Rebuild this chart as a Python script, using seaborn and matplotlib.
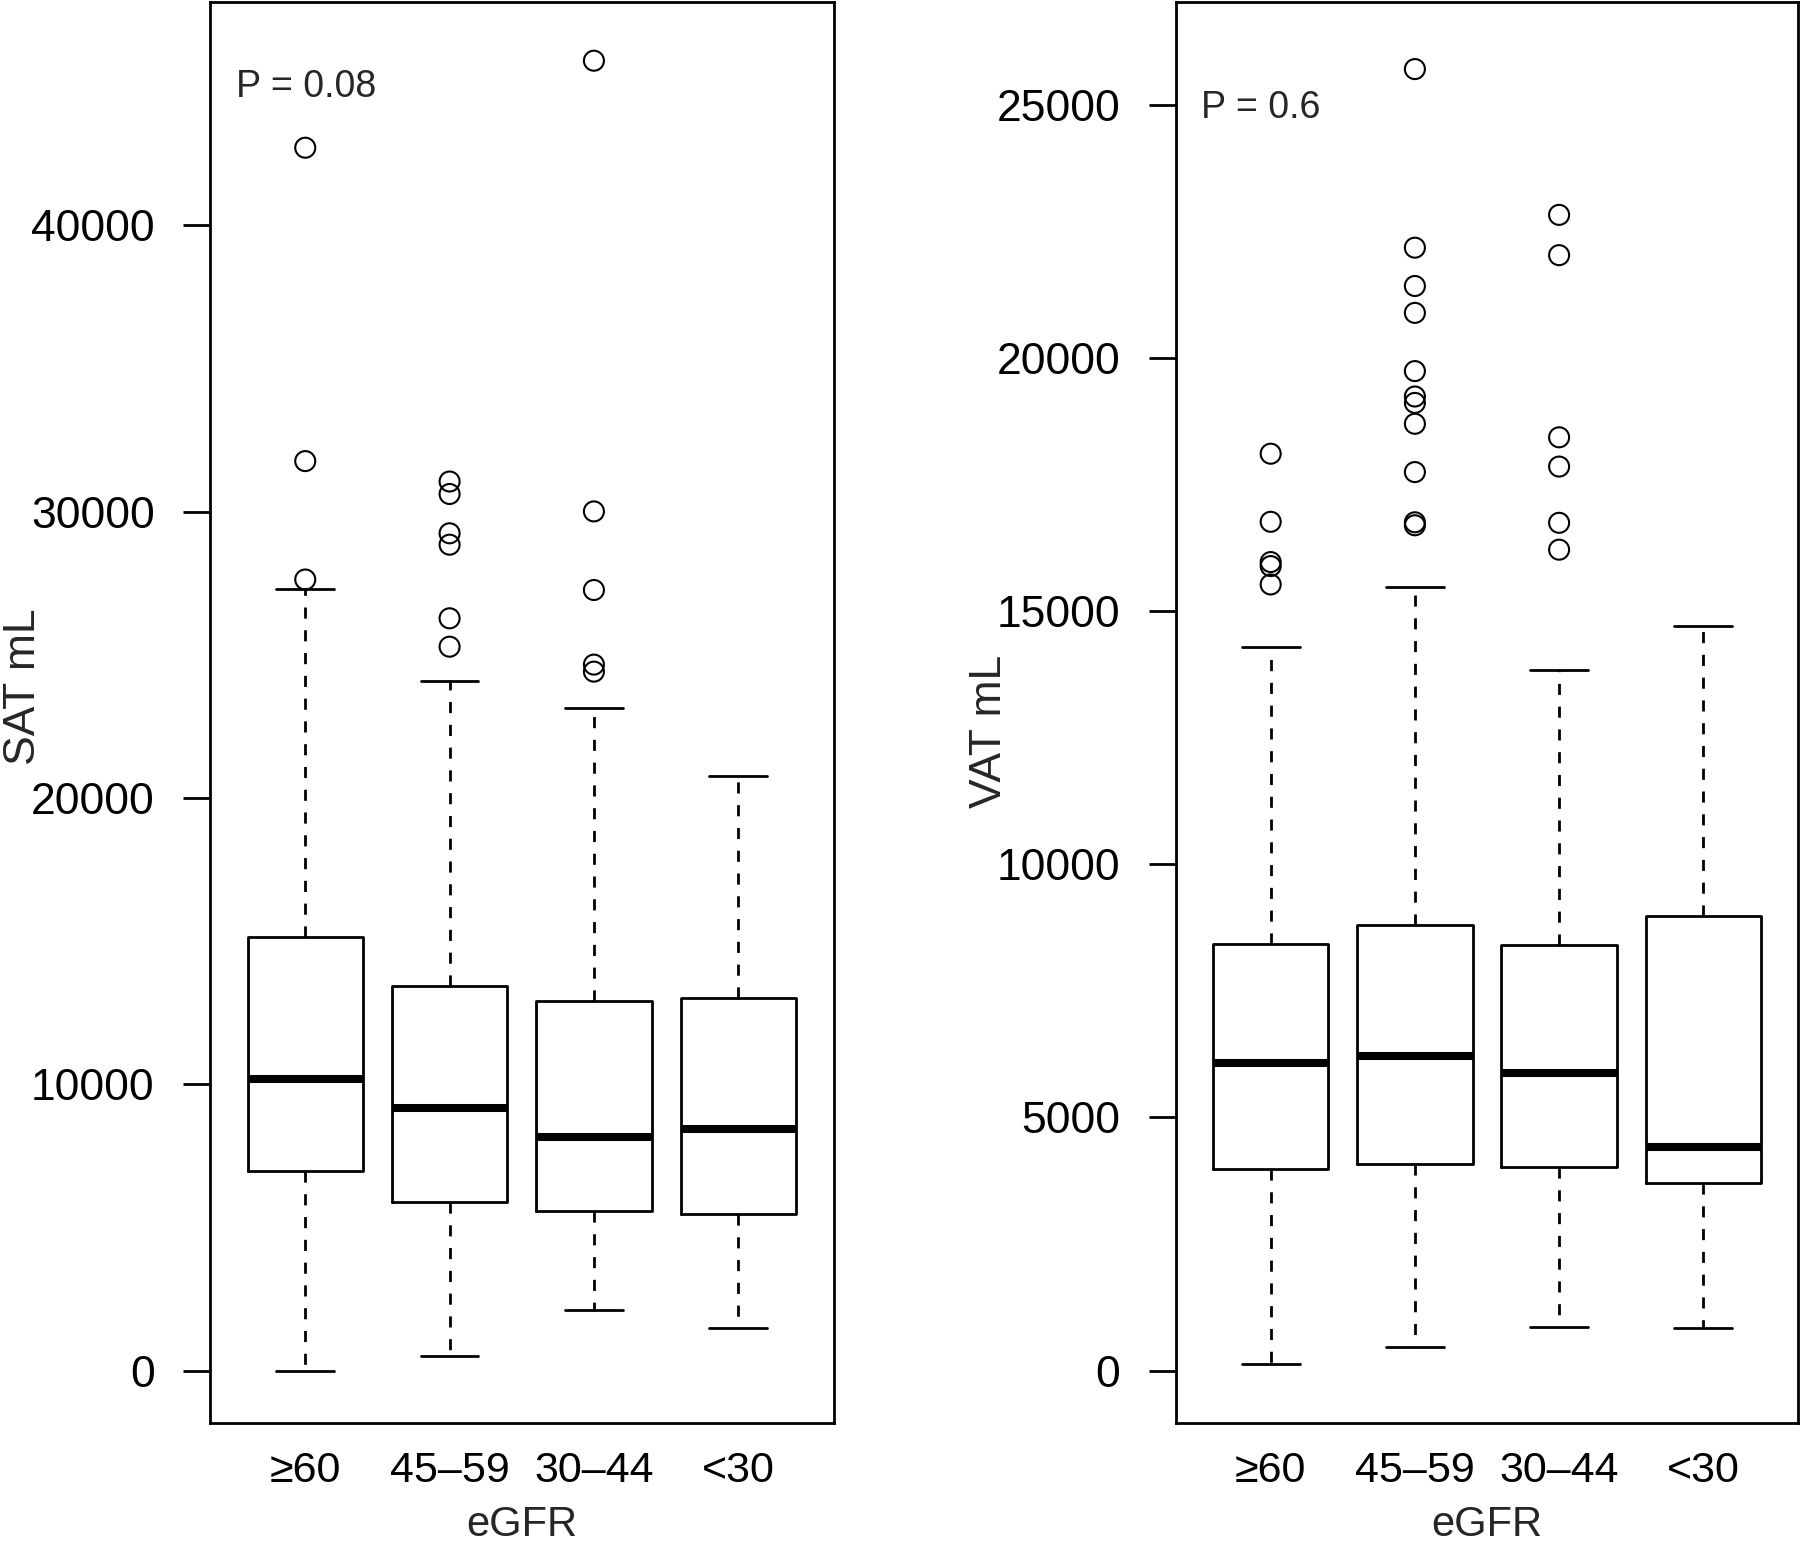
import numpy as np
import pandas as pd
import matplotlib
matplotlib.use("Agg")
import matplotlib.pyplot as plt
from matplotlib.ticker import FuncFormatter
import seaborn as sns

# ---------------- data ----------------
categories = ["≥60", "45–59", "30–44", "<30"]

sat_whislo = [0, 524, 2117, 1470]
sat_q1 = [6968, 5882, 5568, 5480]
sat_med = [10171, 9155, 8142, 8439]
sat_q3 = [15127, 13444, 12902, 13007]
sat_whishi = [27314, 24066, 23143, 20765]
sat_out_ge60 = [42710, 31764, 27628]
sat_out_45_59 = [31051, 30615, 29242, 28844, 26273, 25282]
sat_out_30_44 = [45749, 30007, 27262, 24656, 24411]
sat_out_lt30 = []
sat_ticks = [0, 10000, 20000, 30000, 40000]

vat_whislo = [128, 474, 851, 832]
vat_q1 = [3981, 4089, 4030, 3712]
vat_med = [6069, 6219, 5881, 4415]
vat_q3 = [8416, 8793, 8406, 8981]
vat_whishi = [14299, 15468, 13836, 14701]
vat_out_ge60 = [18111, 16766, 15970, 15891, 15528]
vat_out_45_59 = [25709, 22181, 21424, 20893, 19743, 19241, 19115, 18702,
                 17748, 16756, 16697]
vat_out_30_44 = [22829, 22033, 18435, 17857, 16746, 16215]
vat_out_lt30 = []
vat_ticks = [0, 5000, 10000, 15000, 20000, 25000]

sat_p_text = "P = 0.08"
vat_p_text = "P = 0.6"

# ---------------- style ----------------
sns.set_style("ticks")
plt.rcParams["font.family"] = ["Liberation Sans", "DejaVu Sans"]
plt.rcParams["axes.linewidth"] = 2.0

W, H = 1800, 1546
fig = plt.figure(figsize=(W / 100, H / 100), dpi=100)
fig.patch.set_facecolor("white")

LW = 2.0


def draw_panel(ax, whislo, q1, med, q3, whishi, outliers, ylabel, ptext,
               yticks, ylim, ylabel_y, ptext_y):
    rows = [(categories[i], v) for i, vals in enumerate(outliers) for v in vals]
    out_df = pd.DataFrame(rows, columns=["eGFR", "value"])
    sns.stripplot(data=out_df, x="eGFR", y="value", order=categories,
                  jitter=False, ax=ax, size=14.4, color="white",
                  edgecolor="black", linewidth=1.5, zorder=3)
    for coll in ax.collections:
        coll.set_facecolor("none")
        coll.set_edgecolor("black")

    stats = []
    for i, cat in enumerate(categories):
        stats.append(dict(label=cat, whislo=whislo[i], q1=q1[i], med=med[i],
                          q3=q3[i], whishi=whishi[i], fliers=[]))
    ax.bxp(stats, positions=list(range(len(categories))), widths=0.8,
           capwidths=0.4, showfliers=False, manage_ticks=False,
           boxprops=dict(color="black", linewidth=LW),
           whiskerprops=dict(color="black", linewidth=LW,
                             linestyle=(0, (4.0, 4.2))),
           capprops=dict(color="black", linewidth=LW),
           medianprops=dict(color="black", linewidth=5.8,
                            solid_capstyle="butt"))

    ax.set_xlim(-0.66, len(categories) - 1 + 0.66)
    ax.set_ylim(*ylim)
    ax.set_xticks(list(range(len(categories))))
    ax.set_xticklabels(categories, fontsize=31)
    ax.set_yticks(yticks)
    ax.yaxis.set_major_formatter(FuncFormatter(lambda v, p: f"{int(v)}"))
    ax.tick_params(axis="y", labelsize=32, length=19.8, width=LW, pad=20,
                   direction="out", colors="black")
    ax.tick_params(axis="x", length=0, pad=20.4, colors="black")
    for s in ax.spines.values():
        s.set_visible(True)
        s.set_linewidth(LW)
        s.set_color("black")
    ax.grid(False)
    ax.set_xlabel("eGFR", fontsize=30)
    ax.xaxis.set_label_coords(0.5, -0.0576)
    ax.set_ylabel(ylabel, fontsize=32)
    ax.yaxis.set_label_coords(-0.266, ylabel_y)
    ax.text(0.041, ptext_y, ptext, transform=ax.transAxes, fontsize=27,
            ha="left", va="baseline")


bottom = (H - 1422.7) / H
height = 1421.2 / H
ax1 = fig.add_axes([210 / W, bottom, 623.5 / W, height])
ax2 = fig.add_axes([1175.5 / W, bottom, 623.0 / W, height])

draw_panel(ax1, sat_whislo, sat_q1, sat_med, sat_q3, sat_whishi,
           [sat_out_ge60, sat_out_45_59, sat_out_30_44, sat_out_lt30],
           "SAT mL", sat_p_text, sat_ticks, (-1823, 47817), 0.518, 0.933)
draw_panel(ax2, vat_whislo, vat_q1, vat_med, vat_q3, vat_whishi,
           [vat_out_ge60, vat_out_45_59, vat_out_30_44, vat_out_lt30],
           "VAT mL", vat_p_text, vat_ticks, (-1031, 27044), 0.4866, 0.918)

fig.savefig("out.png", dpi=100, facecolor="white")
